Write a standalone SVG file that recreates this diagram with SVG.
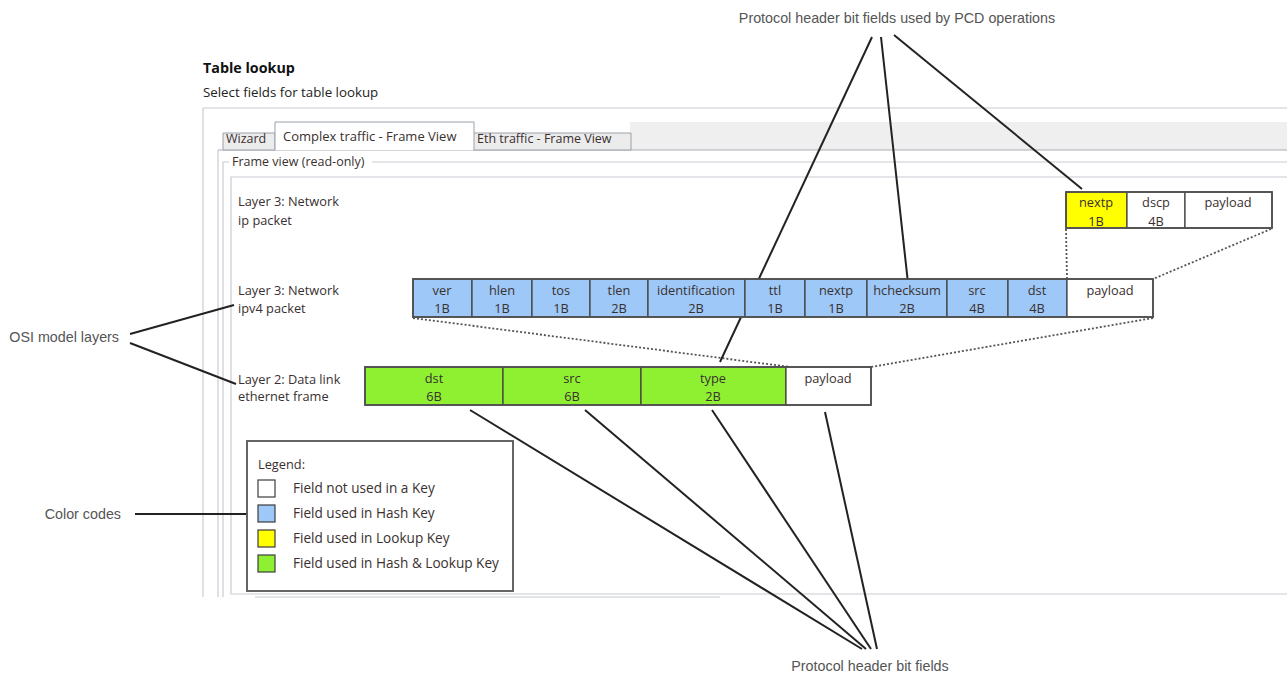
<svg xmlns="http://www.w3.org/2000/svg" width="1287" height="677" viewBox="0 0 1287 677">
<style>
.ui{font-family:"Open Sans","Liberation Sans",sans-serif;font-size:12.8px;fill:#3a3030}
.c{text-anchor:middle}
.ann{font-family:"Liberation Sans",Arial,sans-serif;font-size:14.3px;fill:#555}
.frm{stroke:#c9ccd2;stroke-width:1.2;fill:none}
.cell{stroke:#3c3c3c;stroke-width:1.2}
.row{fill:none;stroke:#505050;stroke-width:1.8}
.lead{stroke:#222;stroke-width:2;fill:none}
.dot{stroke:#555;stroke-width:1.8;stroke-dasharray:2 2;fill:none}
.blue{fill:#9ec8f7}.yel{fill:#ffff00}.grn{fill:#8ff032}.wht{fill:#fff}
</style>
<rect width="1287" height="677" fill="#fff"/>
<g id="frame">
<text x="203" y="73" class="ui" style="font-weight:bold;font-size:14.3px;fill:#111">Table lookup</text>
<text x="203" y="97" class="ui" style="fill:#222;font-size:13.3px">Select fields for table lookup</text>
<rect x="630" y="122" width="657" height="28" fill="#efefef"/>
<line x1="203" y1="108" x2="1287" y2="108" class="frm"/>
<line x1="203" y1="108" x2="203" y2="597" class="frm"/>
<line x1="218" y1="150" x2="218" y2="597" class="frm"/>
<line x1="218" y1="150" x2="1287" y2="150" class="frm" style="stroke:#a9adb5"/>
<path d="M223,133 H275 V150 H223 Z" fill="#ececec" stroke="#9aa0a8"/>
<path d="M473,133 H631 V150 H473 Z" fill="#ececec" stroke="#9aa0a8"/>
<path d="M275,150 V122 H474 V150" fill="#fff" stroke="#9aa0a8"/>
<text x="226" y="143" class="ui" style="font-size:12.5px">Wizard</text>
<text x="283" y="141" class="ui" style="font-size:13px">Complex traffic - Frame View</text>
<text x="477" y="143" class="ui" style="font-size:12.5px">Eth traffic - Frame View</text>
<path d="M223,597 V162 H229 M372,162 H1287" class="frm"/>
<text x="232" y="166" class="ui" style="font-size:12.5px">Frame view (read-only)</text>
<path d="M1287,177 H231 V594 H1287" class="frm"/>
<line x1="255" y1="597" x2="720" y2="597" class="frm"/>
</g>
<g id="connectors">
<line x1="1066" y1="229" x2="1067" y2="279" class="dot"/>
<line x1="1271" y1="229" x2="1153" y2="279" class="dot"/>
<line x1="413" y1="318" x2="790" y2="367" class="dot"/>
<line x1="1153" y1="318" x2="871" y2="367" class="dot"/>
<line x1="872" y1="37" x2="720" y2="362" class="lead"/>
<line x1="881" y1="37" x2="908" y2="283" class="lead"/>
<line x1="894" y1="35" x2="1082" y2="189" class="lead"/>
<line x1="470" y1="410" x2="862" y2="649" class="lead"/>
<line x1="585" y1="410" x2="866" y2="649" class="lead"/>
<line x1="712" y1="410" x2="871" y2="649" class="lead"/>
<line x1="825" y1="412" x2="877" y2="649" class="lead"/>
<line x1="130" y1="334" x2="234" y2="305" class="lead"/>
<line x1="130" y1="343" x2="236" y2="384" class="lead"/>
<line x1="135" y1="514" x2="252" y2="514" class="lead"/>
</g>
<g id="annotations">
<text x="897" y="23" class="ann c">Protocol header bit fields used by PCD operations</text>
<text x="119" y="342" class="ann" style="text-anchor:end">OSI model layers</text>
<text x="121" y="519" class="ann" style="text-anchor:end">Color codes</text>
<text x="870" y="671" class="ann c">Protocol header bit fields</text>
</g>
<g id="ip-packet">
<text x="238" y="206" class="ui">Layer 3: Network</text>
<text x="238" y="225" class="ui">ip packet</text>
<rect x="1066" y="192" width="61" height="36" class="cell yel"/>
<rect x="1127" y="192" width="58" height="36" class="cell wht"/>
<rect x="1185" y="192" width="87" height="36" class="cell wht"/>
<rect x="1066" y="192" width="206" height="36" class="row"/>
<text x="1096" y="207" class="ui c">nextp</text><text x="1096" y="226" class="ui c">1B</text>
<text x="1156" y="207" class="ui c">dscp</text><text x="1156" y="226" class="ui c">4B</text>
<text x="1228" y="207" class="ui c">payload</text>
</g>
<g id="ipv4-packet">
<text x="238" y="295" class="ui">Layer 3: Network</text>
<text x="238" y="313" class="ui">ipv4 packet</text>
<rect x="413" y="279" width="59" height="38" class="cell blue"/>
<rect x="472" y="279" width="60" height="38" class="cell blue"/>
<rect x="532" y="279" width="58" height="38" class="cell blue"/>
<rect x="590" y="279" width="58" height="38" class="cell blue"/>
<rect x="648" y="279" width="97" height="38" class="cell blue"/>
<rect x="745" y="279" width="60" height="38" class="cell blue"/>
<rect x="805" y="279" width="62" height="38" class="cell blue"/>
<rect x="867" y="279" width="80" height="38" class="cell blue"/>
<rect x="947" y="279" width="61" height="38" class="cell blue"/>
<rect x="1008" y="279" width="59" height="38" class="cell blue"/>
<rect x="1067" y="279" width="86" height="38" class="cell wht"/>
<rect x="413" y="279" width="740" height="38" class="row"/>
<text x="442" y="295" class="ui c">ver</text><text x="442" y="313" class="ui c">1B</text>
<text x="502" y="295" class="ui c">hlen</text><text x="502" y="313" class="ui c">1B</text>
<text x="561" y="295" class="ui c">tos</text><text x="561" y="313" class="ui c">1B</text>
<text x="619" y="295" class="ui c">tlen</text><text x="619" y="313" class="ui c">2B</text>
<text x="696" y="295" class="ui c">identification</text><text x="696" y="313" class="ui c">2B</text>
<text x="775" y="295" class="ui c">ttl</text><text x="775" y="313" class="ui c">1B</text>
<text x="836" y="295" class="ui c">nextp</text><text x="836" y="313" class="ui c">1B</text>
<text x="907" y="295" class="ui c">hchecksum</text><text x="907" y="313" class="ui c">2B</text>
<text x="977" y="295" class="ui c">src</text><text x="977" y="313" class="ui c">4B</text>
<text x="1037" y="295" class="ui c">dst</text><text x="1037" y="313" class="ui c">4B</text>
<text x="1110" y="295" class="ui c">payload</text>
</g>
<g id="ethernet-frame">
<text x="238" y="384" class="ui">Layer 2: Data link</text>
<text x="238" y="401" class="ui">ethernet frame</text>
<rect x="365" y="367" width="138" height="38" class="cell grn"/>
<rect x="503" y="367" width="138" height="38" class="cell grn"/>
<rect x="641" y="367" width="145" height="38" class="cell grn"/>
<rect x="786" y="367" width="85" height="38" class="cell wht"/>
<rect x="365" y="367" width="506" height="38" class="row"/>
<text x="434" y="383" class="ui c">dst</text><text x="434" y="401" class="ui c">6B</text>
<text x="572" y="383" class="ui c">src</text><text x="572" y="401" class="ui c">6B</text>
<text x="713" y="383" class="ui c">type</text><text x="713" y="401" class="ui c">2B</text>
<text x="828" y="383" class="ui c">payload</text>
</g>
<g id="legend">
<rect x="247" y="441" width="266" height="150" fill="#fff" stroke="#555" stroke-width="1.8"/>
<text x="258" y="469" class="ui">Legend:</text>
<rect x="258" y="480" width="17" height="17" class="cell wht"/>
<rect x="258" y="505" width="17" height="17" class="cell blue"/>
<rect x="258" y="530" width="17" height="17" class="cell yel"/>
<rect x="258" y="555" width="17" height="17" class="cell grn"/>
<text x="293" y="493" class="ui" style="font-size:13.6px">Field not used in a Key</text>
<text x="293" y="518" class="ui" style="font-size:13.6px">Field used in Hash Key</text>
<text x="293" y="543" class="ui" style="font-size:13.6px">Field used in Lookup Key</text>
<text x="293" y="568" class="ui" style="font-size:13.6px">Field used in Hash &amp; Lookup Key</text>
</g>
</svg>
